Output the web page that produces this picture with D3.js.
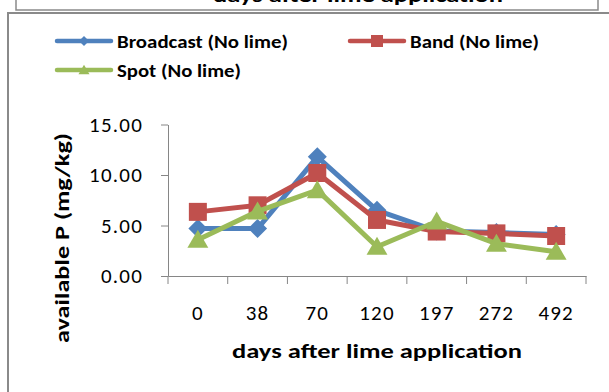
<!DOCTYPE html>
<html lang="en">
<head>
    <meta charset="UTF-8">
    <title>Available P after lime application</title>
    <script src="https://d3js.org/d3.v7.min.js"></script>
    <style>
        body { margin: 0; background: white; }
        svg { display: block; font-family: Carlito, Calibri, Lato, sans-serif; }
    </style>
</head>
<body>
    <div id="chart"></div>
    <script>
        // Data
        var days = ["0", "38", "70", "120", "197", "272", "492"];
        var broadcast = [4.7, 4.7, 11.8, 6.5, 4.45, 4.3, 4.1];
        var band = [6.35, 7.0, 10.2, 5.55, 4.4, 4.22, 3.96];
        var spot = [3.6, 6.4, 8.5, 2.9, 5.4, 3.2, 2.4];
        var yTicks = [0, 5, 10, 15];
        var seriesNames = ["Broadcast (No lime)", "Band (No lime)", "Spot (No lime)"];
        var seriesColors = ["#4F81BD", "#C0504D", "#9BBB59"];

        var W = 609, H = 392;
        var svg = d3.select("#chart").append("svg")
            .attr("width", W).attr("height", H);

        // frame of the chart above (only its bottom edge shows)
        svg.append("rect")
            .attr("x", 16).attr("y", -20).attr("width", 582).attr("height", 30)
            .attr("fill", "none").attr("stroke", "#8a8a8a").attr("stroke-width", 1.5);
        svg.append("text")
            .attr("x", 358).attr("y", 2)
            .attr("text-anchor", "middle")
            .attr("font-weight", "bold").attr("font-size", 21)
            .attr("textLength", 290).attr("lengthAdjust", "spacingAndGlyphs")
            .text("days after lime application");

        // frame of this chart
        svg.append("rect")
            .attr("x", 8).attr("y", 13).attr("width", 700).attr("height", 500)
            .attr("fill", "white").attr("stroke", "#8a8a8a").attr("stroke-width", 2);

        var x = d3.scaleBand().domain(days).range([168, 586]);
        var y = d3.scaleLinear().domain([0, 15]).range([276, 124.5]);

        // y axis
        var yAxis = svg.append("g")
            .attr("transform", "translate(" + x.range()[0] + ",0)")
            .call(d3.axisLeft(y).tickValues(yTicks).tickFormat(d3.format(".2f"))
                .tickSizeInner(7).tickSizeOuter(0).tickPadding(18));
        yAxis.select(".domain").attr("stroke", "#868686");
        yAxis.selectAll(".tick line").attr("stroke", "#868686");
        yAxis.selectAll("text").attr("font-size", 21).attr("fill", "#000")
            .attr("letter-spacing", 1.2)
            .style("font-family", "Carlito, Calibri, Lato, sans-serif");

        // x axis (labels at band centres, ticks at band edges like Excel)
        var xAxis = svg.append("g")
            .attr("transform", "translate(0," + y(0) + ")")
            .call(d3.axisBottom(x).tickSizeInner(0).tickSizeOuter(0).tickPadding(29));
        xAxis.select(".domain").attr("stroke", "#868686");
        xAxis.selectAll("text").attr("font-size", 21).attr("fill", "#000")
            .attr("letter-spacing", 1.2)
            .style("font-family", "Carlito, Calibri, Lato, sans-serif");
        var edges = days.map(function(d) { return x(d); }).concat([x.range()[1]]);
        xAxis.selectAll(".edge")
            .data(edges)
            .join("line")
            .attr("class", "edge")
            .attr("x1", function(d) { return d; }).attr("x2", function(d) { return d; })
            .attr("y1", 0).attr("y2", 8)
            .attr("stroke", "#868686");

        // axis titles
        svg.append("text")
            .attr("x", 377).attr("y", 358)
            .attr("text-anchor", "middle")
            .attr("font-weight", "bold").attr("font-size", 21)
            .attr("textLength", 290).attr("lengthAdjust", "spacingAndGlyphs")
            .text("days after lime application");
        svg.append("text")
            .attr("transform", "translate(69,238) rotate(-90)")
            .attr("text-anchor", "middle")
            .attr("font-weight", "bold").attr("font-size", 21)
            .attr("textLength", 210).attr("lengthAdjust", "spacingAndGlyphs")
            .text("available P (mg/kg)");

        // marker shapes
        function markerPath(kind, s) {
            if (kind === 0) {
                return "M0," + (-s) + "L" + s + ",0L0," + s + "L" + (-s) + ",0Z";
            } else if (kind === 1) {
                return "M" + (-s) + "," + (-s) + "H" + s + "V" + s + "H" + (-s) + "Z";
            }
            return "M0," + (-s * 1.05) + "L" + (s * 1.1) + "," + (s * 0.85) + "H" + (-s * 1.1) + "Z";
        }

        var allSeries = [broadcast, band, spot];
        var sizes = [9.5, 9, 9.5];
        var line = d3.line()
            .x(function(d, i) { return x(days[i]) + x.bandwidth() / 2; })
            .y(function(d) { return y(d); });

        allSeries.forEach(function(vals, k) {
            var g = svg.append("g");
            g.append("path")
                .attr("d", line(vals))
                .attr("fill", "none")
                .attr("stroke", seriesColors[k])
                .attr("stroke-width", 5)
                .attr("stroke-linejoin", "round");
            g.selectAll("path.mk")
                .data(vals)
                .join("path")
                .attr("class", "mk")
                .attr("transform", function(d, i) {
                    return "translate(" + (x(days[i]) + x.bandwidth() / 2) + "," + y(d) + ")";
                })
                .attr("d", markerPath(k, sizes[k]))
                .attr("fill", seriesColors[k]);
        });

        // legend
        var legendItems = [
            { lx: 57, ly: 41, tx: 117, w: 171 },
            { lx: 350, ly: 41, tx: 410, w: 129 },
            { lx: 57, ly: 70, tx: 117, w: 124 }
        ];
        legendItems.forEach(function(it, k) {
            var g = svg.append("g");
            g.append("line")
                .attr("x1", it.lx).attr("x2", it.lx + 54)
                .attr("y1", it.ly).attr("y2", it.ly)
                .attr("stroke", seriesColors[k]).attr("stroke-width", 4.5)
                .attr("stroke-linecap", "round");
            g.append("path")
                .attr("transform", "translate(" + (it.lx + 27) + "," + it.ly + ")")
                .attr("d", markerPath(k, k === 1 ? 6 : 5))
                .attr("fill", seriesColors[k]);
            g.append("text")
                .attr("x", it.tx).attr("y", it.ly + 6.5)
                .attr("font-weight", "bold").attr("font-size", 18.5)
                .attr("textLength", it.w).attr("lengthAdjust", "spacingAndGlyphs")
                .text(seriesNames[k]);
        });
    </script>
</body>
</html>
